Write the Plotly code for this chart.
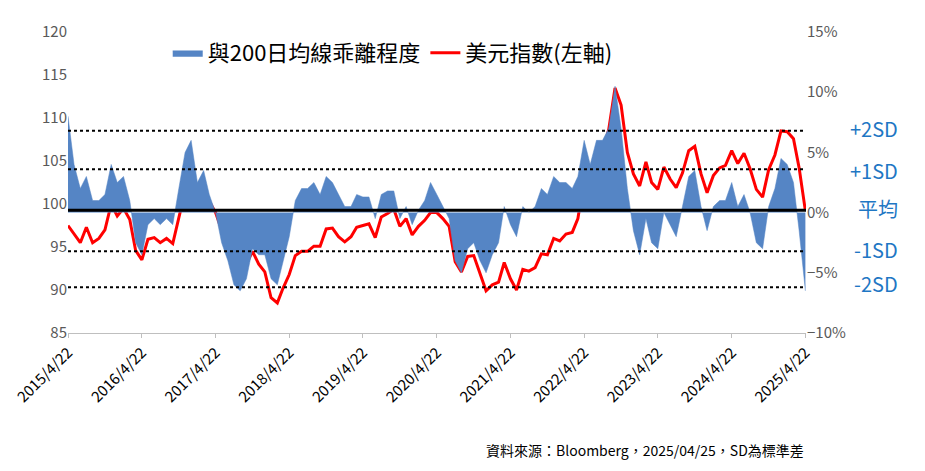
import pandas as pd
import plotly.graph_objects as go

# monthly readings, 2015/4 .. 2025/4
dxy = [97.5, 96.5, 95.5, 97.3, 95.5, 96.0, 97.0, 100.0, 98.6,
       99.5, 98.2, 94.6, 93.5, 95.9, 96.1, 95.5, 96.0, 95.4, 98.5, 101.5, 102.5,
       99.5, 101.1, 100.3, 99.0, 97.0, 95.6, 93.0, 92.7, 93.0, 94.5, 93.0, 92.1,
       89.1, 88.5, 90.2, 91.8, 94.0, 94.5, 94.5, 95.1, 95.1, 97.1, 97.2, 96.2,
       95.6, 96.2, 97.3, 97.5, 97.7, 96.1, 98.5, 98.9, 99.4, 97.4, 98.3, 96.4,
       97.4, 98.1, 99.0, 99.0, 98.3, 97.4, 93.3, 92.1, 93.9, 94.0, 91.9, 89.9,
       90.6, 90.9, 93.2, 91.3, 90.0, 92.4, 92.2, 92.6, 94.2, 94.1, 96.0, 95.7,
       96.5, 96.7, 98.3, 103.0, 101.8, 104.7, 105.9, 108.7, 113.5, 111.5, 106.0, 103.5,
       102.1, 104.9, 102.5, 101.7, 104.3, 102.9, 101.9, 103.6, 106.2, 106.7, 103.5, 101.3,
       103.3, 104.2, 104.5, 106.2, 104.7, 105.9, 104.1, 101.7, 100.8, 104.0, 105.7, 108.5,
       108.4, 107.6, 104.2, 99.2]
deviation = [8.0, 4.0, 2.0, 3.0, 1.0, 1.0, 1.5, 4.0, 2.5,
             3.0, 1.0, -2.5, -3.5, -1.0, -0.5, -1.0, -0.5, -1.0, 2.0, 5.0, 6.0,
             2.5, 3.5, 1.5, 0.0, -2.5, -4.0, -6.0, -6.5, -5.5, -3.0, -3.5, -3.5,
             -5.5, -6.0, -4.0, -2.0, 1.0, 2.0, 2.0, 2.5, 1.5, 3.0, 2.5, 1.5,
             0.5, 0.5, 1.5, 1.3, 1.3, -0.5, 1.5, 1.8, 1.8, -0.5, 0.5, -1.0,
             0.2, 1.0, 2.5, 1.5, 0.5, -0.5, -4.0, -5.0, -3.0, -2.5, -4.0, -5.0,
             -3.5, -2.5, 0.5, -1.0, -2.0, 0.5, 0.0, 0.5, 2.0, 1.5, 3.0, 2.5,
             2.5, 2.0, 3.0, 6.0, 4.0, 6.0, 6.0, 7.0, 10.5, 7.0, 2.0, -1.5,
             -3.5, -0.5, -2.5, -3.0, 0.0, -1.0, -2.0, 0.5, 3.0, 3.5, 0.5, -1.5,
             0.5, 1.0, 1.0, 2.5, 0.5, 1.5, 0.0, -2.5, -3.0, 0.5, 2.0, 4.5,
             4.0, 2.5, -1.5, -6.5]
dates = pd.date_range("2015-04-01", "2025-04-01", freq="MS") + pd.Timedelta(days=21)

sd_levels = [6.8, 3.6, 0.2, -3.2, -6.2]
sd_labels = ["+2SD", "+1SD", "平均", "-1SD", "-2SD"]
label_levels = [7.0, 3.5, 0.3, -3.1, -5.9]
tick_dates = [f"{y}-04-22" for y in range(2015, 2026)]
tick_text = [f"{y}/4/22" for y in range(2015, 2026)]

fig = go.Figure()
fig.add_trace(go.Scatter(
    x=dates, y=deviation, yaxis="y2", mode="lines", fill="tozeroy",
    line=dict(width=0.5, color="#5585C5"), fillcolor="#5585C5",
    name="與200日均線乖離程度"
))
fig.add_trace(go.Scatter(
    x=dates, y=dxy, mode="lines",
    line=dict(color="#FF0000", width=3),
    name="美元指數(左軸)"
))

for lvl, lab in zip(sd_levels, sd_labels):
    mean = lab == "平均"
    fig.add_shape(type="line", xref="paper", x0=0, x1=1, yref="y2", y0=lvl, y1=lvl,
                  line=dict(color="black", width=3 if mean else 2,
                            dash="solid" if mean else "dot"))
for lvl, lab in zip(label_levels, sd_labels):
    fig.add_annotation(x=1.128, xref="paper", y=lvl, yref="y2", text=lab, showarrow=False,
                       font=dict(size=20, color="#1F77C4"))

fig.add_annotation(x=1.0, xref="paper", y=-0.43, yref="paper", xanchor="right",
                   text="資料來源：Bloomberg，2025/04/25，SD為標準差",
                   showarrow=False, font=dict(size=14, color="black"))

fig.update_layout(
    width=925, height=471,
    margin=dict(l=60, r=127, t=15, b=146),
    plot_bgcolor="white", paper_bgcolor="white",
    font=dict(family="Noto Sans CJK TC", color="#595959"),
    showlegend=True,
    legend=dict(orientation="h", x=0.44, xanchor="center", y=1.0, yanchor="top",
                font=dict(size=22, color="black"), bgcolor="rgba(0,0,0,0)"),
    xaxis=dict(range=["2015-04-22", "2025-04-25"], tickvals=tick_dates, ticktext=tick_text,
               tickangle=-45, tickfont=dict(size=15, color="black"), showgrid=False,
               automargin=False,
               showline=True, linecolor="#BFBFBF", ticks="outside", ticklen=4, tickcolor="#BFBFBF"),
    yaxis=dict(range=[85, 120], dtick=5, showgrid=False, tickfont=dict(size=15)),
    yaxis2=dict(range=[-10, 15], dtick=5, overlaying="y", side="right", showgrid=False,
                ticksuffix="%", tickfont=dict(size=15), zeroline=False),
)

fig.write_html("out.html")
